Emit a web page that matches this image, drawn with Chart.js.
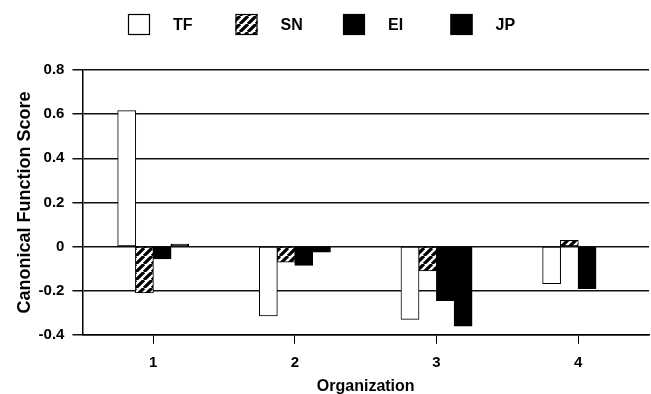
<!DOCTYPE html>
<html>
<head>
<meta charset="utf-8">
<script src="https://cdn.jsdelivr.net/npm/chart.js@4.4.1/dist/chart.umd.min.js"></script>
<style>
  html, body { margin: 0; padding: 0; background: #fff; }
  #wrap { width: 651px; height: 394px; position: relative; }
</style>
</head>
<body>
<div id="wrap"><canvas id="c" width="651" height="394"></canvas></div>
<script>
// ---- data ----
const categories = ["1", "2", "3", "4"];
const seriesNames = ["TF", "SN", "EI", "JP"];
const tfValues = [0.615, -0.314, -0.33, -0.168];
const snValues = [-0.209, -0.07, -0.11, 0.027];
const eiValues = [-0.055, -0.085, -0.245, -0.19];
const jpValues = [0.01, -0.025, -0.36, 0];
const yTicks = [-0.4, -0.2, 0, 0.2, 0.4, 0.6, 0.8];
const xTitle = "Organization";
const yTitle = "Canonical Function Score";

// hatch pattern for SN
function makeHatch() {
  const s = 8;
  const c = document.createElement('canvas');
  c.width = s; c.height = s;
  const g = c.getContext('2d');
  g.fillStyle = '#fff';
  g.fillRect(0, 0, s, s);
  g.strokeStyle = '#000';
  g.lineWidth = 3.2;
  g.beginPath();
  for (const o of [-s, 0, s]) {
    g.moveTo(o, s);
    g.lineTo(o + s, 0);
  }
  g.stroke();
  return g.createPattern(c, 'repeat');
}
const ctx = document.getElementById('c').getContext('2d');
const hatch = makeHatch();

const fills = ['#ffffff', hatch, '#000000', '#000000'];
const valuesList = [tfValues, snValues, eiValues, jpValues];

const FONT = '"Liberation Sans", Arial, sans-serif';

const legendPlugin = {
  id: 'customLegend',
  afterDraw(chart) {
    const g = chart.ctx;
    g.save();
    const startX = 128, stepX = 107.5, boxY = 14, bw = 22, bh = 21;
    chart.data.datasets.forEach((ds, i) => {
      const x = startX + i * stepX;
      g.fillStyle = ds.backgroundColor;
      g.fillRect(x, boxY, bw, bh);
      g.strokeStyle = '#000';
      g.lineWidth = 1.2;
      g.strokeRect(x + 0.5, boxY + 0.5, bw - 1, bh - 1);
      g.fillStyle = '#000';
      g.font = 'bold 16px ' + FONT;
      g.textBaseline = 'middle';
      g.textAlign = 'left';
      g.fillText(ds.label, x + bw + 23, boxY + bh / 2 + 1);
    });
    g.restore();
  }
};

new Chart(ctx, {
  type: 'bar',
  data: {
    labels: categories,
    datasets: seriesNames.map((name, i) => ({
      label: name,
      data: valuesList[i],
      backgroundColor: fills[i],
      borderColor: '#000',
      borderWidth: 1,
      borderSkipped: false,
      inflateAmount: 0.5,
      categoryPercentage: 0.5,
      barPercentage: 1.0
    }))
  },
  options: {
    responsive: false,
    animation: false,
    devicePixelRatio: 1,
    layout: { padding: { top: 70, right: 2, left: 14, bottom: -2 } },
    plugins: {
      legend: { display: false },
      tooltip: { enabled: false }
    },
    scales: {
      x: {
        type: 'category',
        grid: {
          offset: false,
          drawOnChartArea: false,
          drawTicks: true,
          tickLength: 9,
          color: '#000',
          lineWidth: 1
        },
        border: { display: true, color: '#000', width: 1.5 },
        ticks: {
          color: '#000',
          font: { family: FONT, size: 15, weight: 'bold' },
          padding: 10
        },
        title: {
          display: true,
          text: xTitle,
          color: '#000',
          font: { family: FONT, size: 16, weight: 'bold' },
          padding: { top: -5, bottom: 0 }
        }
      },
      y: {
        min: yTicks[0],
        max: yTicks[yTicks.length - 1],
        afterBuildTicks(axis) {
          axis.ticks = yTicks.map(v => ({ value: v }));
        },
        grid: {
          color: '#111',
          lineWidth: 1.5,
          drawTicks: true,
          tickLength: 10
        },
        border: { display: true, color: '#000', width: 1.5 },
        ticks: {
          color: '#000',
          font: { family: FONT, size: 15, weight: 'bold' },
          padding: 8,
          callback: (v) => String(Math.round(v * 10) / 10)
        },
        title: {
          display: true,
          text: yTitle,
          color: '#000',
          font: { family: FONT, size: 18, weight: 'bold' },
          padding: { top: 0, bottom: -5 }
        }
      }
    }
  },
  plugins: [legendPlugin]
});
</script>
</body>
</html>
